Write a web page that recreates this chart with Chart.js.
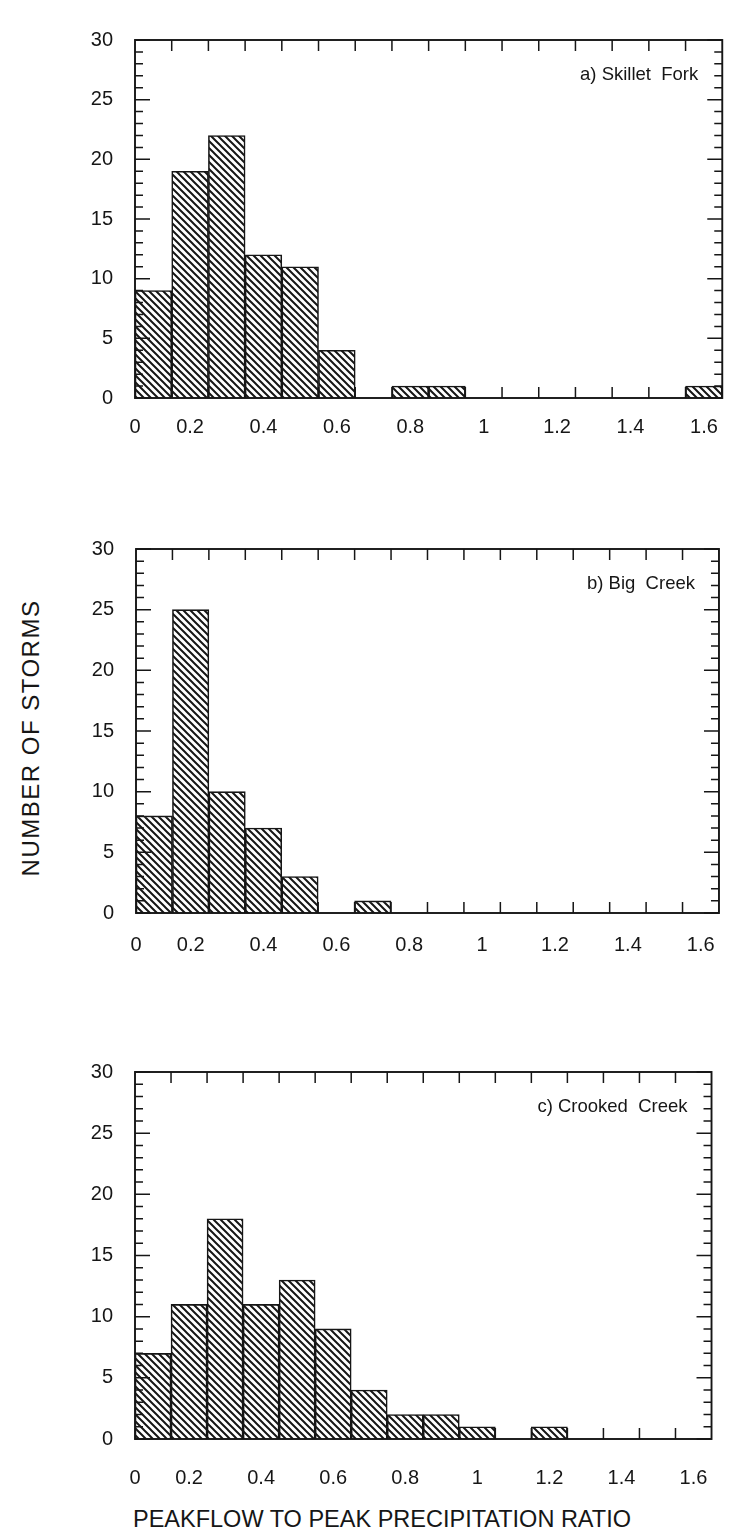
<!DOCTYPE html>
<html lang="en">
<head>
  <meta charset="UTF-8" />
  <title>Peakflow to peak precipitation ratio</title>
  <style>
    body {
      margin: 0;
      width: 735px;
      height: 1537px;
      overflow: hidden;
      position: relative;
      background: #fff;
      font-family: 'Liberation Sans', Arial, sans-serif;
      color: #161616;
    }

    .panel {
      position: absolute;
      left: 60px;
    }

    .ytitle {
      position: absolute;
      left: 31px;
      top: 738px;
      transform: translate(-50%, -50%) rotate(-90deg);
      white-space: nowrap;
      font-size: 24px;
      letter-spacing: 1.5px;
    }

    .xtitle {
      position: absolute;
      left: 133px;
      top: 1506px;
      white-space: nowrap;
      font-size: 23.5px;
    }
  </style>
</head>
<body>
  <canvas class="panel" id="chartA" width="675" height="437" style="top:6px"></canvas>
  <canvas class="panel" id="chartB" width="675" height="443" style="top:515px"></canvas>
  <canvas class="panel" id="chartC" width="675" height="446" style="top:1038px"></canvas>

  <div class="ytitle">NUMBER OF STORMS</div>
  <div class="xtitle">PEAKFLOW TO PEAK PRECIPITATION RATIO</div>

  <script src="https://cdn.jsdelivr.net/npm/chart.js"></script>
  <script>
    // bins of width 0.1, labelled by their centre
    const binCenters = [0.1, 0.2, 0.3, 0.4, 0.5, 0.6, 0.7, 0.8,
                        0.9, 1.0, 1.1, 1.2, 1.3, 1.4, 1.5, 1.6];

    const skilletFork  = [9, 19, 22, 12, 11, 4, 0, 1, 1, 0, 0, 0, 0, 0, 0, 1];
    const bigCreek     = [8, 25, 10, 7, 3, 0, 1, 0, 0, 0, 0, 0, 0, 0, 0, 0];
    const crookedCreek = [7, 11, 18, 11, 13, 9, 4, 2, 2, 1, 0, 1, 0, 0, 0, 0];

    const xTickValues = [0.05, 0.2, 0.4, 0.6, 0.8, 1.0, 1.2, 1.4, 1.6];
    const xTickLabels = ['0', '0.2', '0.4', '0.6', '0.8', '1', '1.2', '1.4', '1.6'];
    const yMax = 30;
    const yStep = 5;

    const ink = '#161616';
    const fontFamily = "'Liberation Sans', Arial, sans-serif";

    function hatch(ctx) {
      const s = 7;
      const c = document.createElement('canvas');
      c.width = s; c.height = s;
      const g = c.getContext('2d');
      g.fillStyle = '#fff';
      g.fillRect(0, 0, s, s);
      g.strokeStyle = ink;
      g.lineWidth = 2;
      g.beginPath();
      g.moveTo(-1, -1); g.lineTo(s + 1, s + 1);
      g.moveTo(s - 1, -1); g.lineTo(s + 1, 1);
      g.moveTo(-1, s - 1); g.lineTo(1, s + 1);
      g.stroke();
      return ctx.createPattern(c, 'repeat');
    }

    // box round the plot, inward ticks and the station label
    const framePlugin = {
      id: 'frame',
      afterDatasetsDraw(chart, args, opts) {
        const { ctx, chartArea: a, scales: { x, y } } = chart;
        ctx.save();
        ctx.strokeStyle = ink;
        ctx.lineWidth = 1.5;
        ctx.beginPath();
        for (let v = 0; v <= yMax; v++) {
          const py = y.getPixelForValue(v);
          const len = v % yStep === 0 ? 15 : 8;
          ctx.moveTo(a.left, py); ctx.lineTo(a.left + len, py);
          ctx.moveTo(a.right, py); ctx.lineTo(a.right - len, py);
        }
        for (let i = 1; i < binCenters.length; i++) {
          const px = x.getPixelForValue((binCenters[i - 1] + binCenters[i]) / 2);
          ctx.moveTo(px, a.top); ctx.lineTo(px, a.top + 11);
          ctx.moveTo(px, a.bottom); ctx.lineTo(px, a.bottom - 11);
        }
        ctx.stroke();

        ctx.lineWidth = 1.9;
        ctx.strokeRect(a.left, a.top, a.right - a.left, a.bottom - a.top);

        ctx.fillStyle = ink;
        ctx.font = '18.5px ' + fontFamily;
        ctx.textAlign = 'right';
        ctx.textBaseline = 'middle';
        ctx.fillText(opts.label, a.right - 24, a.top + 35);
        ctx.restore();
      }
    };

    function drawPanel(id, counts, label, padRight, yWidth, xPad) {
      const ctx = document.getElementById(id).getContext('2d');
      new Chart(ctx, {
        type: 'bar',
        data: {
          datasets: [{
            data: binCenters.map((c, i) => ({ x: c, y: counts[i] })),
            backgroundColor: hatch(ctx),
            borderColor: ink,
            borderWidth: 1.6,
            barPercentage: 1,
            categoryPercentage: 1
          }]
        },
        options: {
          responsive: false,
          animation: false,
          layout: { padding: { top: 12, right: padRight, left: 0, bottom: 0 } },
          plugins: {
            legend: { display: false },
            tooltip: { enabled: false },
            frame: { label: label }
          },
          scales: {
            x: {
              type: 'linear',
              offset: false,
              min: 0.05,
              max: 1.65,
              grid: { display: false, drawTicks: false },
              border: { display: false },
              afterBuildTicks: scale => {
                scale.ticks = xTickValues.map(v => ({ value: v }));
              },
              afterFit: scale => { scale.height = 45; },
              ticks: {
                autoSkip: false,
                maxRotation: 0,
                padding: xPad,
                color: ink,
                font: { family: fontFamily, size: 20 },
                callback: (v, i) => xTickLabels[i]
              }
            },
            y: {
              min: 0,
              max: yMax,
              grid: { display: false, drawTicks: false },
              border: { display: false },
              afterFit: scale => { scale.width = yWidth; },
              ticks: {
                stepSize: yStep,
                padding: 22,
                color: ink,
                font: { family: fontFamily, size: 20 }
              }
            }
          }
        },
        plugins: [framePlugin]
      });
    }

    drawPanel('chartA', skilletFork, 'a) Skillet  Fork', 6, 75, 17);
    drawPanel('chartB', bigCreek, 'b) Big  Creek', 11, 76, 20);
    drawPanel('chartC', crookedCreek, 'c) Crooked  Creek', 19, 75, 27);
  </script>
</body>
</html>
